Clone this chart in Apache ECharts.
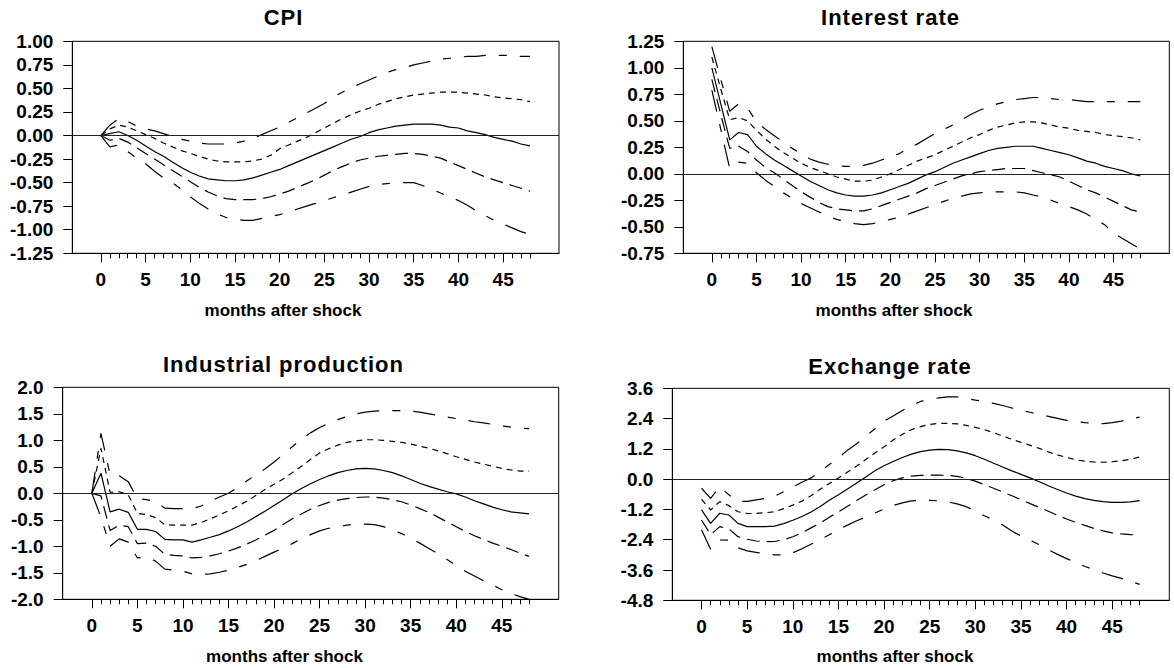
<!DOCTYPE html>
<html><head><meta charset="utf-8">
<script src="https://cdn.jsdelivr.net/npm/echarts@6/dist/echarts.min.js"></script>
<style>
html,body{margin:0;padding:0;background:#fff}
#c{width:1174px;height:668px}
#c svg text[style*="22px"]{letter-spacing:1px}
</style>
</head><body><div id="c"></div>
<script>
// ---------- data ----------
const months = [0,1,2,3,4,5,6,7,8,9,10,11,12,13,14,15,16,17,18,19,20,21,22,23,24,25,26,27,28,29,30,31,32,33,34,35,36,37,38,39,40,41,42,43,44,45,46,47,48];
const xMajorTicks = [0,5,10,15,20,25,30,35,40,45];
const panelTitles = ['CPI','Interest rate','Industrial production','Exchange rate'];
const xAxisName = 'months after shock';

const cpiYTicks = [-1.25,-1.00,-0.75,-0.50,-0.25,0.00,0.25,0.50,0.75,1.00];
const rateYTicks = [-0.75,-0.50,-0.25,0.00,0.25,0.50,0.75,1.00,1.25];
const ipYTicks = [-2.0,-1.5,-1.0,-0.5,0.0,0.5,1.0,1.5,2.0];
const erYTicks = [-4.8,-3.6,-2.4,-1.2,0.0,1.2,2.4,3.6];

// CPI
const cpiMid = [0,0.02,0.04,0.0,-0.05,-0.11,-0.17,-0.22,-0.28,-0.34,-0.39,-0.43,-0.46,-0.47,-0.48,-0.48,-0.47,-0.45,-0.42,-0.39,-0.36,-0.32,-0.28,-0.24,-0.20,-0.16,-0.12,-0.08,-0.04,-0.01,0.03,0.06,0.08,0.10,0.11,0.12,0.12,0.12,0.11,0.09,0.08,0.05,0.03,0.01,-0.02,-0.04,-0.06,-0.09,-0.11];
const cpiUp1 = [0,0.07,0.11,0.09,0.05,0.01,-0.03,-0.08,-0.12,-0.16,-0.19,-0.22,-0.25,-0.27,-0.28,-0.28,-0.28,-0.27,-0.25,-0.21,-0.14,-0.10,-0.06,-0.02,0.03,0.08,0.13,0.18,0.22,0.26,0.29,0.33,0.36,0.39,0.41,0.43,0.44,0.45,0.46,0.46,0.46,0.45,0.44,0.43,0.41,0.40,0.39,0.38,0.36];
const cpiUp2 = [0,0.11,0.18,0.15,0.10,0.07,0.05,0.02,-0.01,-0.04,-0.06,-0.08,-0.09,-0.09,-0.09,-0.08,-0.06,-0.03,0.01,0.05,0.09,0.14,0.19,0.24,0.29,0.34,0.41,0.46,0.51,0.55,0.59,0.63,0.67,0.70,0.72,0.75,0.77,0.79,0.81,0.82,0.83,0.84,0.84,0.85,0.85,0.85,0.85,0.84,0.84];
const cpiLo1 = [0,-0.05,-0.03,-0.07,-0.13,-0.19,-0.25,-0.31,-0.37,-0.43,-0.49,-0.55,-0.60,-0.64,-0.67,-0.68,-0.68,-0.68,-0.67,-0.65,-0.62,-0.59,-0.55,-0.51,-0.47,-0.42,-0.37,-0.33,-0.29,-0.26,-0.24,-0.22,-0.21,-0.20,-0.19,-0.19,-0.20,-0.22,-0.24,-0.28,-0.32,-0.36,-0.40,-0.44,-0.47,-0.50,-0.53,-0.56,-0.59];
const cpiLo2 = [0,-0.12,-0.10,-0.17,-0.24,-0.30,-0.38,-0.45,-0.50,-0.57,-0.65,-0.72,-0.78,-0.83,-0.87,-0.89,-0.90,-0.90,-0.88,-0.86,-0.84,-0.81,-0.78,-0.75,-0.72,-0.69,-0.66,-0.63,-0.60,-0.57,-0.54,-0.52,-0.51,-0.50,-0.50,-0.50,-0.53,-0.57,-0.61,-0.65,-0.69,-0.74,-0.80,-0.85,-0.90,-0.94,-0.98,-1.02,-1.05];

// Interest rate
const rateMid = [1.00,0.66,0.32,0.39,0.37,0.26,0.19,0.13,0.08,0.03,-0.02,-0.07,-0.11,-0.15,-0.18,-0.20,-0.21,-0.21,-0.20,-0.18,-0.15,-0.12,-0.09,-0.05,-0.01,0.02,0.06,0.10,0.13,0.16,0.19,0.22,0.24,0.25,0.26,0.26,0.26,0.24,0.22,0.20,0.18,0.15,0.12,0.10,0.07,0.05,0.03,0.00,-0.02];
const rateUp1 = [1.10,0.80,0.51,0.53,0.50,0.41,0.33,0.26,0.20,0.15,0.10,0.06,0.03,0.00,-0.03,-0.05,-0.07,-0.07,-0.06,-0.03,0.00,0.04,0.08,0.12,0.15,0.18,0.22,0.26,0.30,0.34,0.37,0.41,0.44,0.46,0.48,0.49,0.49,0.48,0.46,0.44,0.43,0.41,0.40,0.39,0.37,0.36,0.35,0.34,0.32];
const rateUp2 = [1.20,0.89,0.59,0.66,0.62,0.49,0.42,0.36,0.30,0.24,0.19,0.14,0.11,0.09,0.075,0.07,0.07,0.08,0.10,0.13,0.16,0.19,0.24,0.28,0.33,0.38,0.42,0.46,0.51,0.56,0.60,0.63,0.66,0.68,0.70,0.71,0.72,0.72,0.71,0.70,0.70,0.69,0.68,0.68,0.68,0.68,0.68,0.68,0.68];
const rateLo1 = [0.89,0.56,0.24,0.26,0.21,0.13,0.06,0.01,-0.05,-0.11,-0.17,-0.22,-0.27,-0.31,-0.33,-0.34,-0.35,-0.35,-0.33,-0.30,-0.27,-0.24,-0.21,-0.18,-0.14,-0.11,-0.08,-0.05,-0.02,0.00,0.02,0.03,0.04,0.05,0.05,0.05,0.03,0.01,-0.01,-0.03,-0.07,-0.11,-0.15,-0.18,-0.22,-0.26,-0.30,-0.34,-0.36];
const rateLo2 = [0.79,0.42,0.05,0.11,0.10,0.01,-0.06,-0.12,-0.18,-0.23,-0.28,-0.32,-0.36,-0.40,-0.43,-0.45,-0.47,-0.48,-0.47,-0.45,-0.43,-0.41,-0.38,-0.35,-0.32,-0.29,-0.26,-0.23,-0.21,-0.19,-0.18,-0.17,-0.17,-0.17,-0.17,-0.18,-0.20,-0.22,-0.25,-0.28,-0.31,-0.34,-0.38,-0.43,-0.48,-0.56,-0.61,-0.66,-0.71];

// Industrial production
const ipMid = [0,0.38,-0.35,-0.30,-0.36,-0.68,-0.68,-0.72,-0.87,-0.88,-0.88,-0.92,-0.88,-0.83,-0.78,-0.71,-0.63,-0.54,-0.44,-0.34,-0.23,-0.12,-0.01,0.09,0.18,0.26,0.33,0.39,0.43,0.46,0.47,0.46,0.43,0.39,0.33,0.26,0.19,0.13,0.08,0.03,-0.01,-0.07,-0.14,-0.20,-0.26,-0.31,-0.35,-0.37,-0.39];
const ipUp1 = [0,0.85,0.02,0.03,-0.03,-0.38,-0.40,-0.46,-0.59,-0.60,-0.60,-0.60,-0.55,-0.48,-0.41,-0.33,-0.24,-0.15,-0.04,0.07,0.17,0.27,0.39,0.51,0.64,0.76,0.84,0.91,0.96,0.99,1.01,1.01,1.00,0.98,0.96,0.93,0.89,0.85,0.80,0.75,0.69,0.64,0.59,0.55,0.51,0.47,0.44,0.42,0.42];
const ipUp2 = [0,1.13,0.35,0.33,0.22,-0.10,-0.12,-0.15,-0.28,-0.29,-0.29,-0.29,-0.24,-0.15,-0.07,0.00,0.11,0.23,0.35,0.46,0.59,0.73,0.88,1.02,1.14,1.24,1.32,1.39,1.45,1.50,1.53,1.55,1.56,1.56,1.56,1.55,1.53,1.50,1.47,1.44,1.41,1.38,1.35,1.33,1.30,1.27,1.25,1.23,1.22];
const ipLo1 = [0,-0.05,-0.70,-0.60,-0.63,-0.95,-0.94,-1.00,-1.15,-1.17,-1.18,-1.22,-1.21,-1.18,-1.14,-1.09,-1.03,-0.96,-0.88,-0.79,-0.70,-0.59,-0.48,-0.39,-0.30,-0.23,-0.17,-0.13,-0.10,-0.08,-0.07,-0.07,-0.09,-0.12,-0.16,-0.22,-0.29,-0.36,-0.45,-0.54,-0.63,-0.72,-0.80,-0.87,-0.94,-1.00,-1.06,-1.13,-1.19];
const ipLo2 = [0,-0.45,-1.00,-0.86,-0.92,-1.22,-1.20,-1.28,-1.43,-1.45,-1.47,-1.52,-1.53,-1.52,-1.49,-1.45,-1.40,-1.34,-1.27,-1.19,-1.11,-1.03,-0.95,-0.86,-0.78,-0.71,-0.66,-0.63,-0.60,-0.58,-0.58,-0.59,-0.63,-0.69,-0.76,-0.85,-0.94,-1.04,-1.14,-1.25,-1.36,-1.47,-1.56,-1.65,-1.73,-1.82,-1.89,-1.95,-2.00];

// Exchange rate
const erMid = [-1.22,-1.75,-1.35,-1.42,-1.75,-1.88,-1.88,-1.88,-1.86,-1.76,-1.63,-1.48,-1.30,-1.08,-0.84,-0.62,-0.39,-0.15,0.09,0.33,0.53,0.70,0.86,0.99,1.09,1.15,1.18,1.17,1.12,1.04,0.93,0.79,0.63,0.48,0.33,0.19,0.05,-0.10,-0.26,-0.41,-0.55,-0.67,-0.77,-0.84,-0.89,-0.92,-0.92,-0.90,-0.85];
const erUp1 = [-0.80,-1.22,-0.89,-1.05,-1.29,-1.36,-1.36,-1.33,-1.29,-1.17,-1.03,-0.87,-0.66,-0.40,-0.17,0.05,0.28,0.52,0.78,1.04,1.28,1.55,1.78,1.96,2.08,2.17,2.21,2.21,2.19,2.13,2.05,1.96,1.84,1.71,1.58,1.46,1.34,1.22,1.08,0.96,0.86,0.77,0.71,0.68,0.67,0.69,0.73,0.79,0.88];
const erUp2 = [-0.36,-0.76,-0.30,-0.62,-0.88,-0.88,-0.82,-0.76,-0.68,-0.50,-0.31,-0.12,0.05,0.30,0.58,0.84,1.15,1.40,1.70,2.00,2.30,2.50,2.72,2.92,3.08,3.16,3.22,3.26,3.26,3.20,3.13,3.08,3.00,2.92,2.82,2.72,2.65,2.57,2.49,2.41,2.33,2.28,2.24,2.21,2.20,2.24,2.30,2.38,2.46];
const erLo1 = [-1.62,-2.20,-1.88,-1.97,-2.28,-2.38,-2.45,-2.48,-2.47,-2.40,-2.28,-2.12,-1.93,-1.74,-1.51,-1.30,-1.07,-0.85,-0.63,-0.42,-0.22,-0.06,0.05,0.12,0.15,0.16,0.16,0.15,0.11,0.03,-0.08,-0.22,-0.36,-0.51,-0.66,-0.81,-0.97,-1.12,-1.27,-1.43,-1.58,-1.71,-1.83,-1.95,-2.05,-2.13,-2.17,-2.20,-2.21];
const erLo2 = [-2.00,-2.78,-2.41,-2.42,-2.72,-2.84,-2.90,-2.95,-3.00,-3.00,-2.92,-2.76,-2.58,-2.40,-2.20,-2.00,-1.82,-1.65,-1.50,-1.34,-1.18,-1.04,-0.94,-0.86,-0.84,-0.84,-0.86,-0.90,-0.98,-1.09,-1.27,-1.45,-1.62,-1.82,-2.05,-2.26,-2.42,-2.60,-2.80,-2.98,-3.15,-3.30,-3.46,-3.58,-3.72,-3.83,-3.93,-4.05,-4.17];

// ---------- layout / style ----------
const FONT = "'Liberation Sans', Arial, sans-serif";
const grids = [
  {left: 72.3, top: 41.3, width: 486.7, height: 212},
  {left: 683.3, top: 41.3, width: 486, height: 212},
  {left: 62.7, top: 387.3, width: 496, height: 212},
  {left: 672.3, top: 388.3, width: 497, height: 212}
];
const titlePos = [[283.5, 6.5], [890.5, 6], [283.5, 353.5], [890, 355]];
const namePos = [[283, 301.5], [894, 301.5], [284.5, 647.5], [895, 647.5]];
const yTicksAll = [cpiYTicks, rateYTicks, ipYTicks, erYTicks];
const yDecimals = [2, 2, 1, 1];
const panelData = [
  [cpiMid, cpiUp1, cpiUp2, cpiLo1, cpiLo2],
  [rateMid, rateUp1, rateUp2, rateLo1, rateLo2],
  [ipMid, ipUp1, ipUp2, ipLo1, ipLo2],
  [erMid, erUp1, erUp2, erLo1, erLo2]
];
const lineTypes = ['solid', [6, 5], [22, 13, 8, 13], [13, 7], [22, 13, 8, 13]];
const X_MIN = -3.2, X_MAX = 51.25;
const firstMonth = months[0], lastMonth = months[months.length - 1];

const option = {
  animation: false,
  backgroundColor: '#fff',
  title: [], grid: [], xAxis: [], yAxis: [], series: []
};

panelTitles.forEach((t, i) => {
  option.title.push({text: t, left: titlePos[i][0], top: titlePos[i][1], textAlign: 'center', padding: 0,
    textStyle: {fontFamily: FONT, fontWeight: 'bold', fontSize: 22, color: '#000'}});
  option.title.push({text: xAxisName, left: namePos[i][0], top: namePos[i][1], textAlign: 'center', padding: 0,
    textStyle: {fontFamily: FONT, fontWeight: 'bold', fontSize: 17, color: '#000'}});
});

grids.forEach(g => {
  option.grid.push(Object.assign({show: true, borderColor: '#000', borderWidth: 1, backgroundColor: 'transparent', containLabel: false}, g));
});
// overlay grids spanning exactly month 0..48, used only for the one-month minor ticks
grids.forEach(g => {
  const pxPerUnit = g.width / (X_MAX - X_MIN);
  option.grid.push({show: false, containLabel: false,
    left: g.left + (firstMonth - X_MIN) * pxPerUnit, top: g.top,
    width: (lastMonth - firstMonth) * pxPerUnit, height: g.height});
});

const fmt = dec => v => (Math.abs(v) < 1e-9 ? 0 : v).toFixed(dec);

for (let i = 0; i < 4; i++) {
  const yt = yTicksAll[i];
  option.xAxis.push({
    gridIndex: i, type: 'value', min: X_MIN, max: X_MAX, position: 'bottom',
    axisLine: {show: true, onZero: false, lineStyle: {color: '#000', width: 1}},
    axisTick: {show: true, inside: false, length: 9, customValues: xMajorTicks, lineStyle: {color: '#000', width: 1}},
    axisLabel: {show: true, customValues: xMajorTicks, margin: 17, fontFamily: FONT, fontWeight: 'bold', fontSize: 19, color: '#000'},
    splitLine: {show: false}
  });
  option.yAxis.push({
    gridIndex: i, type: 'value', min: yt[0], max: yt[yt.length - 1], interval: yt[1] - yt[0],
    axisLine: {show: true, onZero: false, lineStyle: {color: '#000', width: 1}},
    axisTick: {show: true, inside: false, length: 9, lineStyle: {color: '#000', width: 1}},
    axisLabel: {show: true, margin: 19, fontFamily: FONT, fontWeight: 'bold', fontSize: 19, color: '#000',
      formatter: fmt(yDecimals[i])},
    splitLine: {show: false}
  });
}
for (let i = 0; i < 4; i++) {
  const yt = yTicksAll[i];
  option.xAxis.push({
    gridIndex: 4 + i, type: 'value', min: firstMonth, max: lastMonth, interval: 1, position: 'bottom',
    axisLine: {show: false, onZero: false},
    axisTick: {show: true, inside: false, length: 5, lineStyle: {color: '#000', width: 1}},
    axisLabel: {show: false},
    splitLine: {show: false}
  });
  option.yAxis.push({
    gridIndex: 4 + i, type: 'value', min: yt[0], max: yt[yt.length - 1],
    show: false, splitLine: {show: false}
  });
}

for (let i = 0; i < 4; i++) {
  panelData[i].forEach((vals, k) => {
    const s = {
      type: 'line', xAxisIndex: i, yAxisIndex: i,
      data: months.map((m, j) => [m, vals[j]]),
      showSymbol: false, symbol: 'none', silent: true,
      lineStyle: {color: '#000', width: 1.2, type: lineTypes[k]},
      z: 3
    };
    if (k === 0) {
      s.markLine = {silent: true, symbol: ['none', 'none'], label: {show: false},
        lineStyle: {type: 'solid', color: '#222', width: 1}, data: [{yAxis: 0}], animation: false};
    }
    option.series.push(s);
  });
}

const chart = echarts.init(document.getElementById('c'), null, {renderer: 'svg'});
chart.setOption(option);
</script>
</body></html>
